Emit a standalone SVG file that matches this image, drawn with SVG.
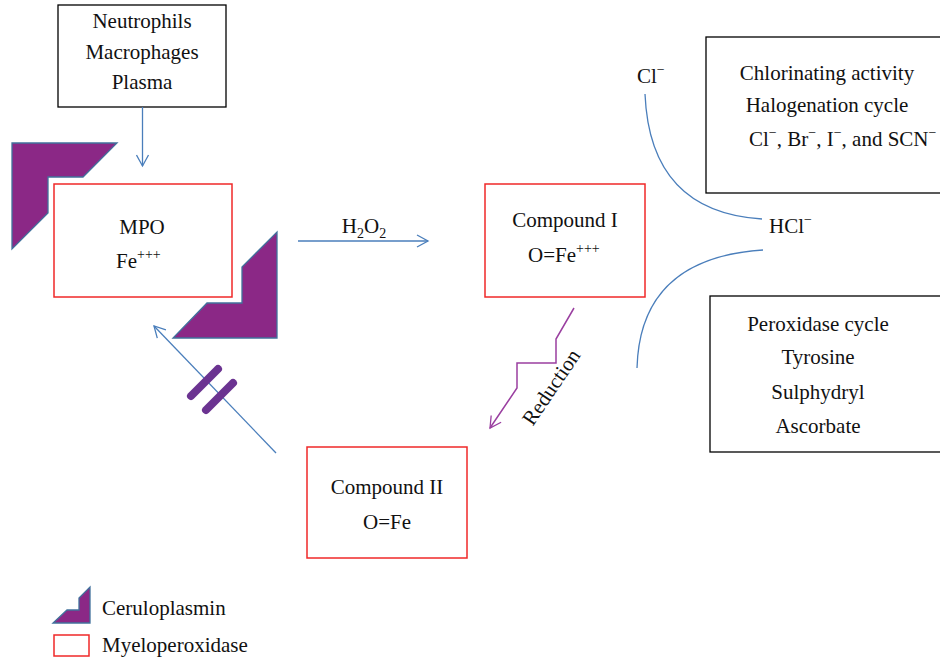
<svg xmlns="http://www.w3.org/2000/svg" width="940" height="659" viewBox="0 0 940 659">
<defs>
<marker id="ab" markerWidth="14" markerHeight="14" refX="12" refY="7" orient="auto" markerUnits="userSpaceOnUse">
<path d="M1,1 L12,7 L1,13" fill="none" stroke="#4a7ebb" stroke-width="1.3"/>
</marker>
<marker id="ap" markerWidth="14" markerHeight="14" refX="12" refY="7" orient="auto" markerUnits="userSpaceOnUse">
<path d="M1,1 L12,7 L1,13" fill="none" stroke="#9a3fa0" stroke-width="1.3"/>
</marker>
</defs>
<style>
text{font-family:"Liberation Serif","Times New Roman",serif;font-size:21px;fill:#111;}
.c{text-anchor:middle;}
.bk{fill:#fff;stroke:#000;stroke-width:1.3;}
.rd{fill:#fff;stroke:#f02828;stroke-width:1.5;}
.cp{fill:#8b2886;stroke:#41719c;stroke-width:1.3;}
.bl{fill:none;stroke:#4a7ebb;stroke-width:1.3;}
.sup{font-size:14px;}
</style>
<rect width="940" height="659" fill="#fff"/>

<g id="source">
<rect class="bk" x="58" y="5" width="168" height="102"/>
<text class="c" x="142" y="28">Neutrophils</text>
<text class="c" x="142" y="59">Macrophages</text>
<text class="c" x="142" y="89">Plasma</text>
</g>

<g id="cerulo-top"><polygon class="cp" points="12,143 117,143 83,177 48,177 48,213 12,249"/></g>
<g id="cerulo-bottom"><polygon class="cp" points="277,232 277,338 173,338 207,303 242,303 242,267"/></g>

<g id="mpo">
<rect class="rd" x="54" y="184" width="178" height="113"/>
<text class="c" x="142" y="234">MPO</text>
<text x="116" y="268">Fe<tspan class="sup" dy="-9">+++</tspan></text>
</g>

<g id="compound1">
<rect class="rd" x="485" y="184" width="160" height="113"/>
<text class="c" x="565" y="227">Compound I</text>
<text x="528" y="262">O=Fe<tspan class="sup" dy="-9">+++</tspan></text>
</g>

<g id="compound2">
<rect class="rd" x="307" y="447" width="160" height="111"/>
<text class="c" x="387" y="494">Compound II</text>
<text class="c" x="387" y="529">O=Fe</text>
</g>

<g id="chlorinating">
<rect class="bk" x="706" y="37" width="245" height="156"/>
<text class="c" x="827" y="80">Chlorinating activity</text>
<text class="c" x="827" y="112">Halogenation cycle</text>
<text x="749" y="146">Cl<tspan class="sup" dy="-9">−</tspan><tspan dy="9">, Br</tspan><tspan class="sup" dy="-9">−</tspan><tspan dy="9">, I</tspan><tspan class="sup" dy="-9">−</tspan><tspan dy="9">, and SCN</tspan><tspan class="sup" dy="-9">−</tspan></text>
</g>

<g id="peroxidase">
<rect class="bk" x="710" y="296" width="240" height="156"/>
<text class="c" x="818" y="331">Peroxidase cycle</text>
<text class="c" x="818" y="364">Tyrosine</text>
<text class="c" x="818" y="399">Sulphydryl</text>
<text class="c" x="818" y="433">Ascorbate</text>
</g>

<g id="cl-label"><text x="637" y="83">Cl<tspan class="sup" dy="-9">−</tspan></text></g>
<g id="hcl-label"><text x="769" y="233">HCl<tspan class="sup" dy="-9">−</tspan></text></g>

<g id="connectors">
<line class="bl" x1="142.5" y1="107" x2="142.5" y2="166" marker-end="url(#ab)"/>
<line class="bl" x1="298" y1="241" x2="428" y2="241" marker-end="url(#ab)"/>
<text class="c" x="364" y="233">H<tspan class="sup" dy="5">2</tspan><tspan dy="-5">O</tspan><tspan class="sup" dy="5">2</tspan></text>
<path class="bl" d="M645,94 Q650,212 762,219"/>
<path class="bl" d="M763,250 Q640,258 637,368"/>
<polyline points="574,308 556,339 556,363 517,363 517,388 490,428" fill="none" stroke="#9a3fa0" stroke-width="1.5" marker-end="url(#ap)"/>
<text class="c" transform="translate(557,391) rotate(-56)">Reduction</text>
<line class="bl" x1="276" y1="453" x2="154" y2="326" marker-end="url(#ab)"/>
<line x1="191" y1="396" x2="218" y2="369" stroke="#6b3391" stroke-width="8" stroke-linecap="round"/>
<line x1="206" y1="410" x2="233" y2="383" stroke="#6b3391" stroke-width="8" stroke-linecap="round"/>
</g>

<g id="legend">
<polygon class="cp" points="53,623 90,623 90,587 79,598 79,610 67,610"/>
<text x="102" y="615">Ceruloplasmin</text>
<rect class="rd" x="54" y="635" width="35" height="21"/>
<text x="102" y="652">Myeloperoxidase</text>
</g>
</svg>
